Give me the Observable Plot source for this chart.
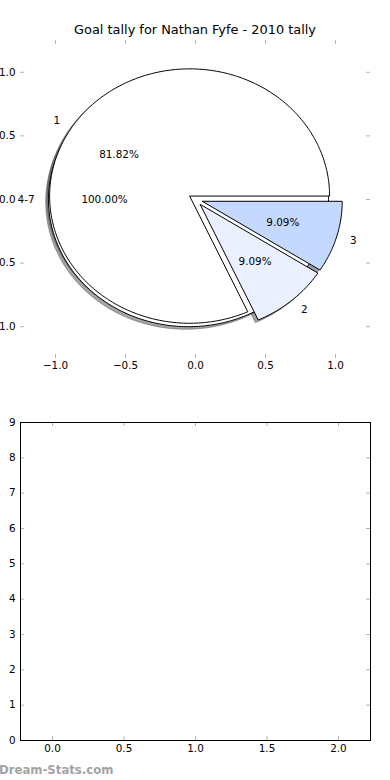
<!DOCTYPE html>
<html><head><meta charset="utf-8">
<script src="https://cdn.jsdelivr.net/npm/d3@7"></script>
<script src="https://cdn.jsdelivr.net/npm/@observablehq/plot@0.6"></script>
<style>
html,body{margin:0;padding:0;background:#fff;}
#wrap{position:relative;width:390px;height:780px;overflow:hidden;font-family:"DejaVu Sans",sans-serif;}
#title{position:absolute;left:0;top:22px;width:390px;text-align:center;font-size:12.9px;color:#000;white-space:nowrap;}
#mark{position:absolute;left:-1px;top:762px;font-size:13px;font-weight:bold;color:#a3a3a3;font-family:"DejaVu Sans",sans-serif;white-space:nowrap;transform:scaleX(0.9);transform-origin:0 50%;}
svg{display:block;}
</style></head><body>
<div id="wrap"><div id="charts"></div><div id="title">Goal tally for Nathan Fyfe - 2010 tally</div><div id="mark">Dream-Stats.com</div></div>
<script>
// ---- data ----
const sliceLabels = ["1", "2", "3"];
const sliceValues = [9, 1, 1];
const restLabels = ["4-7"];
const restValues = [1];
const pieTicks = [-1, -0.5, 0, 0.5, 1];
const barXTicks = [0, 0.5, 1, 1.5, 2];
const barYTicks = [0, 1, 2, 3, 4, 5, 6, 7, 8, 9];

// ---- styles ----
const sliceFills = ["#ffffff", "#eaf0ff", "#c5d8ff"];
const restFills = ["#ffffff"];
const explode = 0.05;
const shadowOff = 0.02;
const tickGray = "#b4b4b4";

function pieGeometry(labels, values, fills) {
  const total = d3.sum(values);
  let a0 = 0;
  return labels.map((label, i) => {
    const frac = values[i] / total;
    const a1 = a0 + frac * 2 * Math.PI;
    const mid = (a0 + a1) / 2;
    const cx = explode * Math.cos(mid), cy = explode * Math.sin(mid);
    const full = frac > 0.999999;
    const n = Math.max(4, Math.ceil((a1 - a0) / (Math.PI / 180)));
    const pts = full ? [] : [[cx, cy]];
    for (let k = 0; k <= n; k++) {
      const t = a0 + (a1 - a0) * k / n;
      pts.push([cx + Math.cos(t), cy + Math.sin(t)]);
    }
    const c = d3.rgb(fills[i]);
    const shade = d3.rgb(c.r * 0.3, c.g * 0.3, c.b * 0.3).formatHex();
    const w = {
      label, pct: (frac * 100).toFixed(2) + "%", fill: fills[i], shade,
      pts: pts.map(([x, y]) => ({x, y})),
      lx: cx + 1.1 * Math.cos(mid), ly: cy + 1.1 * Math.sin(mid),
      px: cx + 0.6 * Math.cos(mid), py: cy + 0.6 * Math.sin(mid)
    };
    a0 = a1;
    return w;
  });
}

const pieA = pieGeometry(restLabels, restValues, restFills);
const pieB = pieGeometry(sliceLabels, sliceValues, sliceFills);
const wedges = [...pieA, ...pieB];

const fmt1 = d => (d < 0 ? "\u2212" : "") + Math.abs(d).toFixed(1);
const W = 390, H1 = 390, H2 = 390;
const lineOpts = {curve: "linear-closed", strokeLinejoin: "miter", strokeMiterlimit: 10, strokeLinecap: "butt"};

const shadowMarks = wedges.map(w => Plot.line(w.pts, {
  x: d => d.x - shadowOff, y: d => d.y - shadowOff, ...lineOpts,
  fill: w.shade, fillOpacity: 0.5, stroke: w.shade, strokeOpacity: 0.5, strokeWidth: 1
}));
const wedgeMarks = wedges.map(w => Plot.line(w.pts, {
  x: "x", y: "y", ...lineOpts, fill: w.fill, stroke: "#000", strokeWidth: 1
}));

const pieFrameH = H1 - 40 - 32;
const pieFrameW = W - 40;

const topChart = Plot.plot({
  width: W, height: H1,
  marginTop: 40, marginBottom: 32, marginLeft: 20, marginRight: 20,
  x: {domain: [-1.25, 1.25]},
  y: {domain: [-1.25, 1.25]},
  style: {fontFamily: "DejaVu Sans", fontSize: "10.4px", background: "white", overflow: "visible", color: "#000"},
  marks: [
    ...shadowMarks,
    ...wedgeMarks,
    Plot.text(wedges.filter(w => w.lx >= 0), {x: "lx", y: "ly", text: "label", textAnchor: "start", fill: "#000"}),
    Plot.text(wedges.filter(w => w.lx < 0), {x: "lx", y: "ly", text: "label", textAnchor: "end", fill: "#000"}),
    Plot.text(wedges, {x: "px", y: "py", text: "pct", fill: "#000"}),
    Plot.tickX(pieTicks, {x: d => d, insetBottom: pieFrameH - 4, stroke: tickGray}),
    Plot.tickX(pieTicks, {x: d => d, insetTop: pieFrameH - 4, stroke: tickGray}),
    Plot.tickY(pieTicks, {y: d => d, insetRight: pieFrameW - 4, stroke: tickGray}),
    Plot.tickY(pieTicks, {y: d => d, insetLeft: pieFrameW - 4, stroke: tickGray}),
    Plot.axisX(pieTicks, {tickSize: 0, tickPadding: 3, tickFormat: fmt1, label: null, fill: "#000"}),
    Plot.axisY(pieTicks, {tickSize: 0, tickPadding: 5, tickFormat: fmt1, label: null, fill: "#000"})
  ]
});

const barFrameH = H2 - 32 - 40;
const barFrameW = W - 40;
const bottomChart = Plot.plot({
  width: W, height: H2,
  marginTop: 32, marginBottom: 40, marginLeft: 20, marginRight: 20,
  x: {domain: [-0.224, 2.224]},
  y: {domain: [0, 9]},
  style: {fontFamily: "DejaVu Sans", fontSize: "10.4px", background: "white", overflow: "visible", color: "#000"},
  marks: [
    Plot.tickX(barXTicks, {x: d => d, insetBottom: barFrameH - 4, stroke: tickGray}),
    Plot.tickX(barXTicks, {x: d => d, insetTop: barFrameH - 4, stroke: tickGray}),
    Plot.tickY(barYTicks, {y: d => d, insetRight: barFrameW - 4, stroke: tickGray}),
    Plot.tickY(barYTicks, {y: d => d, insetLeft: barFrameW - 4, stroke: tickGray}),
    Plot.frame({stroke: "#000", strokeWidth: 1}),
    Plot.axisX(barXTicks, {tickSize: 0, tickPadding: 4, tickFormat: d => d.toFixed(1), label: null, fill: "#000"}),
    Plot.axisY(barYTicks, {tickSize: 0, tickPadding: 5, tickFormat: d => String(d), label: null, fill: "#000"})
  ]
});

const holder = document.getElementById("charts");
holder.appendChild(topChart);
holder.appendChild(bottomChart);
</script>
</body></html>
